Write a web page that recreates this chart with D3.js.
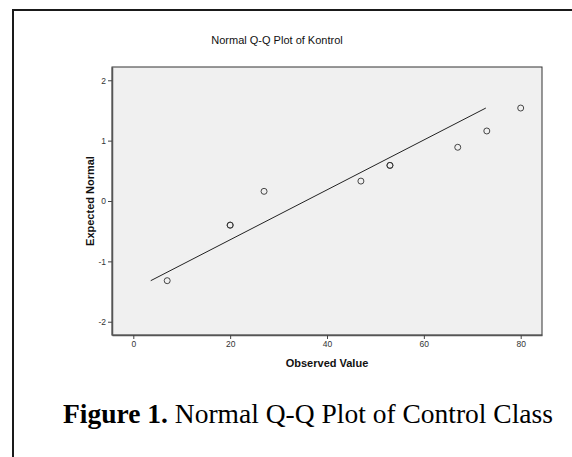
<!DOCTYPE html>
<html>
<head>
<meta charset="utf-8">
<script src="https://cdn.jsdelivr.net/npm/d3@7"></script>
<style>
  html, body { margin: 0; padding: 0; background: #fff; }
  svg { display: block; }
</style>
</head>
<body>
<svg id="chart" width="572" height="457"></svg>
<script>
// Data
const observed = [7, 20, 20, 27, 47, 53, 53, 67, 73, 80];
const expected = [-1.32, -0.40, -0.40, 0.16, 0.33, 0.59, 0.59, 0.89, 1.16, 1.54];
const lineObserved = [3.6, 72.8];
const lineExpected = [-1.32, 1.54];
const xTicks = [0, 20, 40, 60, 80];
const yTicks = [-2, -1, 0, 1, 2];
const xDomain = [-4.4, 84.4];
const yDomain = [-2.22, 2.22];

const svg = d3.select("#chart");

// outer frame
svg.append("rect")
  .attr("x", 13).attr("y", 10)
  .attr("width", 600).attr("height", 500)
  .attr("fill", "#fff").attr("stroke", "#1a1a1a").attr("stroke-width", 2);

const plot = { left: 112, right: 542, top: 67, bottom: 335 };

const x = d3.scaleLinear().domain(xDomain).range([plot.left, plot.right]);
const y = d3.scaleLinear().domain(yDomain).range([plot.bottom, plot.top]);

// plot background
svg.append("rect")
  .attr("x", plot.left).attr("y", plot.top)
  .attr("width", plot.right - plot.left).attr("height", plot.bottom - plot.top)
  .attr("fill", "#f0f0f0").attr("stroke", "#333").attr("stroke-width", 1);

// axes
const fmt = d => String(d);
const xAxis = d3.axisBottom(x).tickValues(xTicks).tickFormat(fmt).tickSize(4).tickPadding(2).tickSizeOuter(0);
const yAxis = d3.axisLeft(y).tickValues(yTicks).tickFormat(fmt).tickSize(4).tickPadding(2).tickSizeOuter(0);

const gx = svg.append("g").attr("transform", `translate(0,${plot.bottom})`).call(xAxis);
const gy = svg.append("g").attr("transform", `translate(${plot.left},0)`).call(yAxis);

[gx, gy].forEach(g => {
  g.select(".domain").attr("stroke", "#555").attr("stroke-width", 1.5);
  g.selectAll(".tick line").attr("stroke", "#444");
  g.selectAll(".tick text")
    .attr("fill", "#333")
    .style("font-family", "Arial, 'Liberation Sans', sans-serif")
    .style("font-size", "8.5px");
});

// title
svg.append("text")
  .attr("x", 277).attr("y", 43.5)
  .attr("text-anchor", "middle")
  .style("font-family", "Arial, 'Liberation Sans', sans-serif")
  .style("font-size", "11px")
  .attr("fill", "#111")
  .text("Normal Q-Q Plot of Kontrol");

// axis labels
svg.append("text")
  .attr("x", (plot.left + plot.right) / 2).attr("y", 367)
  .attr("text-anchor", "middle")
  .style("font-family", "Arial, 'Liberation Sans', sans-serif")
  .style("font-size", "11px").style("font-weight", "bold")
  .attr("fill", "#111")
  .text("Observed Value");

svg.append("text")
  .attr("transform", `translate(94,${(plot.top + plot.bottom) / 2}) rotate(-90)`)
  .attr("text-anchor", "middle")
  .style("font-family", "Arial, 'Liberation Sans', sans-serif")
  .style("font-size", "11px").style("font-weight", "bold")
  .attr("fill", "#111")
  .text("Expected Normal");

// reference line
const lineData = lineObserved.map((v, i) => [v, lineExpected[i]]);
svg.append("path")
  .datum(lineData)
  .attr("d", d3.line().x(d => x(d[0])).y(d => y(d[1])))
  .attr("fill", "none").attr("stroke", "#222").attr("stroke-width", 1);

// points
const pts = observed.map((v, i) => ({ o: v, e: expected[i] }));
svg.append("g").selectAll("circle")
  .data(pts).join("circle")
  .attr("cx", d => x(d.o)).attr("cy", d => y(d.e))
  .attr("r", 3)
  .attr("fill", "none").attr("stroke", "#333").attr("stroke-width", 0.9);

// figure caption
const cap = svg.append("text")
  .attr("x", 308).attr("y", 423)
  .attr("text-anchor", "middle")
  .style("font-family", "'Times New Roman', 'Liberation Serif', serif")
  .style("font-size", "27.5px")
  .attr("fill", "#000");
cap.append("tspan").style("font-weight", "bold").text("Figure 1.");
cap.append("tspan").text(" Normal Q-Q Plot of Control Class");
</script>
</body>
</html>
